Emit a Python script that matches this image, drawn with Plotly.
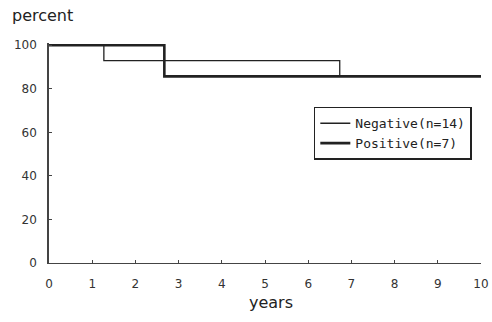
import plotly.graph_objects as go

neg_years = [0, 1.27, 6.73, 10]
neg_surv = [100, 92.9, 85.7, 85.7]
pos_years = [0, 2.67, 10]
pos_surv = [100, 85.7, 85.7]
x_ticks = list(range(0, 11))
y_ticks = [0, 20, 40, 60, 80, 100]

fig = go.Figure()
fig.add_trace(go.Scatter(x=neg_years, y=neg_surv, mode="lines", line_shape="hv",
                         line=dict(color="#222", width=1.3), name="Negative(n=14)"))
fig.add_trace(go.Scatter(x=pos_years, y=pos_surv, mode="lines", line_shape="hv",
                         line=dict(color="#222", width=2.6), name="Positive(n=7)"))

fig.update_layout(
    width=492, height=322,
    margin=dict(l=49, r=11, t=43, b=59),
    paper_bgcolor="white", plot_bgcolor="white",
    font=dict(family="DejaVu Sans", size=12, color="#333"),
    showlegend=True,
    legend=dict(x=0.613, y=0.71, xanchor="left", yanchor="top",
                bordercolor="#222", borderwidth=1.5, bgcolor="white",
                font=dict(family="DejaVu Sans Mono", size=13, color="#222"),
                tracegroupgap=0, itemwidth=30),
    xaxis=dict(range=[0, 10], tickvals=x_ticks, showgrid=False, zeroline=False,
               showline=True, linecolor="#444", linewidth=1.2, automargin=False,
               ticks="inside", ticklen=3, tickcolor="#444", ticklabelstandoff=9),
    yaxis=dict(range=[0, 101], tickvals=y_ticks, showgrid=False, zeroline=False,
               showline=True, linecolor="#444", linewidth=1.5, automargin=False,
               ticks="inside", ticklen=3, tickcolor="#444", ticklabelstandoff=8),
    annotations=[
        dict(text="percent", x=-0.09, y=1.125, xref="paper", yref="paper", showarrow=False,
             xanchor="left", yanchor="middle", font=dict(size=16, color="#222")),
        dict(text="years", x=0.515, y=-0.18, xref="paper", yref="paper", showarrow=False,
             xanchor="center", yanchor="middle", font=dict(size=16, color="#222")),
    ],
)
fig.write_html("out.html", config={"displayModeBar": False},
               post_script="document.body.style.margin='0';document.body.style.overflow='hidden';")
